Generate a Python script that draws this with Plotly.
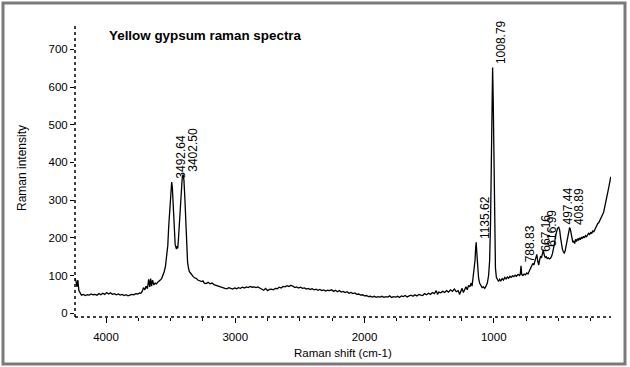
import plotly.graph_objects as go

# Raman shift (cm-1) and intensity
shift = [4240, 4232, 4225, 4218, 4210, 4200, 4190, 4175, 4160, 4145, 4130, 4115, 4100, 4085, 4070,
         4055, 4040, 4025, 4010, 3995, 3980, 3965, 3950, 3935, 3920, 3905, 3890, 3875, 3860, 3845,
         3830, 3815, 3800, 3785, 3770, 3755, 3740, 3730, 3720, 3710, 3700, 3690, 3680, 3670, 3662,
         3655, 3648, 3640, 3630, 3620, 3610, 3600, 3590, 3580, 3570, 3560, 3550, 3540, 3530, 3522,
         3515, 3508, 3502, 3496, 3492, 3487, 3481, 3476, 3470, 3465, 3460, 3455, 3450, 3445, 3440,
         3432, 3425, 3418, 3410, 3403, 3397, 3390, 3383, 3376, 3369, 3362, 3355, 3345, 3335, 3325,
         3315, 3300, 3290, 3275, 3260, 3250, 3240, 3225, 3210, 3195, 3180, 3165, 3150, 3140, 3125,
         3110, 3095, 3080, 3065, 3050, 3035, 3020, 3005, 2990, 2975, 2960, 2945, 2930, 2915, 2900,
         2885, 2870, 2855, 2840, 2825, 2810, 2795, 2780, 2765, 2750, 2735, 2720, 2705, 2690, 2675,
         2660, 2645, 2630, 2615, 2600, 2585, 2570, 2555, 2540, 2525, 2510, 2495, 2480, 2465, 2450,
         2435, 2420, 2405, 2390, 2375, 2360, 2345, 2330, 2315, 2300, 2285, 2270, 2255, 2240, 2225,
         2210, 2195, 2180, 2165, 2150, 2135, 2120, 2105, 2090, 2075, 2060, 2045, 2030, 2015, 2000,
         1985, 1970, 1955, 1940, 1925, 1910, 1895, 1880, 1865, 1850, 1835, 1820, 1805, 1790, 1775,
         1760, 1745, 1730, 1715, 1700, 1685, 1670, 1655, 1640, 1625, 1610, 1595, 1580, 1565, 1550,
         1535, 1520, 1505, 1490, 1475, 1460, 1445, 1435, 1425, 1410, 1395, 1380, 1365, 1350, 1335,
         1320, 1305, 1290, 1275, 1265, 1255, 1245, 1235, 1225, 1215, 1205, 1195, 1185, 1175, 1168,
         1160, 1152, 1145, 1140, 1136, 1131, 1125, 1118, 1110, 1100, 1090, 1080, 1070, 1060, 1050,
         1040, 1032, 1025, 1019, 1013, 1009, 1004, 999, 993, 987, 980, 972, 963, 955, 945,
         935, 925, 915, 905, 895, 885, 875, 865, 855, 845, 835, 825, 812, 800, 795,
         789, 784, 775, 765, 755, 745, 735, 725, 715, 705, 698, 690, 682, 675, 667,
         660, 652, 645, 638, 630, 623, 617, 610, 602, 594, 586, 578, 570, 562, 554,
         546, 538, 530, 522, 514, 506, 497, 490, 483, 476, 469, 462, 455, 448, 441,
         434, 427, 420, 414, 409, 402, 395, 388, 381, 374, 367, 360, 352, 345, 338,
         330, 322, 314, 306, 298, 290, 282, 274, 266, 258, 250, 242, 234, 226, 218,
         210, 202, 195, 188, 180, 172, 165, 158, 150, 143, 136, 129, 122, 115, 108,
         101, 95]
intensity = [92, 85, 70, 88, 60, 52, 48, 50, 47, 49, 48, 51, 49, 50, 48,
             52, 49, 53, 50, 55, 51, 54, 50, 52, 49, 51, 48, 50, 47, 49,
             46, 48, 50, 49, 52, 51, 54, 53, 58, 68, 62, 72, 65, 90, 70,
             92, 72, 88, 75, 80, 78, 82, 84, 88, 92, 100, 110, 125, 150, 180,
             230, 270, 320, 340, 348, 335, 290, 235, 200, 182, 176, 170, 178, 172, 195,
             240, 300, 345, 362, 368, 352, 305, 230, 170, 135, 120, 110, 106, 100, 97,
             94, 92, 88, 86, 84, 86, 80, 79, 82, 78, 80, 76, 74, 72, 72,
             70, 68, 66, 65, 68, 66, 64, 67, 65, 68, 66, 69, 67, 70, 68,
             71, 69, 70, 68, 70, 67, 65, 61, 66, 60, 63, 64, 62, 66, 65,
             69, 67, 71, 70, 73, 71, 74, 72, 68, 70, 67, 69, 66, 67, 64,
             66, 63, 65, 62, 64, 61, 63, 60, 62, 59, 61, 60, 62, 58, 61,
             57, 60, 56, 58, 55, 57, 53, 55, 52, 54, 50, 51, 48, 49, 46,
             47, 44, 45, 43, 45, 42, 44, 43, 45, 42, 44, 43, 46, 42, 44,
             43, 45, 42, 46, 44, 47, 43, 46, 48, 45, 49, 46, 50, 48, 47,
             52, 49, 53, 50, 55, 52, 60, 50, 56, 54, 58, 55, 60, 56, 62,
             58, 64, 57, 60, 50, 58, 66, 55, 62, 70, 62, 74, 70, 80, 72,
             92, 110, 140, 175, 188, 160, 120, 95, 80, 72, 68, 70, 66, 72, 80,
             100, 140, 240, 420, 600, 652, 560, 380, 200, 120, 95, 88, 84, 90, 86,
             92, 88, 95, 91, 96, 93, 98, 95, 99, 97, 101, 98, 103, 100, 104,
             126, 103, 100, 104, 102, 107, 104, 112, 118, 124, 132, 128, 140, 148, 156,
             138, 128, 142, 150, 148, 160, 168, 155, 148, 150, 145, 147, 144, 146, 150,
             158, 170, 185, 205, 218, 226, 228, 220, 200, 182, 170, 163, 160, 165, 178,
             195, 210, 220, 226, 225, 212, 198, 188, 192, 185, 196, 190, 198, 193, 200,
             195, 202, 198, 204, 200, 206, 203, 208, 212, 209, 214, 212, 218, 216, 222,
             228, 235, 238, 240, 245, 250, 258, 262, 268, 278, 290, 302, 315, 326, 338,
             350, 362]

# Labelled peaks
peak_labels = ["3492.64", "3402.50", "1135.62", "1008.79", "788.83", "667.16", "616.99", "497.44", "408.89"]
peak_height = [348, 368, 188, 652, 126, 156, 168, 228, 225]

y_ticks = [0, 100, 200, 300, 400, 500, 600, 700]
x_ticks = [4000, 3000, 2000, 1000]

W, H = 630, 367
ML, MR, MT, MB = 75, 19, 23, 50
PW, PH = W - ML - MR, H - MT - MB
FONT = "Liberation Sans, Arial, sans-serif"

def px(xp):
    return (xp - ML) / PW

def py(yp):
    return (H - MB - yp) / PH

fig = go.Figure()
fig.add_trace(go.Scatter(x=shift, y=intensity, mode="lines",
                         line=dict(color="black", width=1.3), hoverinfo="skip"))

for lab, h in zip(peak_labels, peak_height):
    fig.add_annotation(x=float(lab), y=h, text=lab, showarrow=False, textangle=-90,
                       xanchor="center", yanchor="bottom", xshift=9, yshift=1,
                       font=dict(family=FONT, size=12, color="black"))

# title and axis titles
fig.add_annotation(xref="paper", yref="paper", x=px(107), y=py(35), text="<b>Yellow gypsum raman spectra</b>",
                   showarrow=False, xanchor="left", yanchor="middle",
                   font=dict(family=FONT, size=13.4, color="black"))
fig.add_annotation(xref="paper", yref="paper", x=px(22), y=py(168), text="Raman intensity",
                   showarrow=False, textangle=-90, xanchor="center", yanchor="middle",
                   font=dict(family=FONT, size=12, color="black"))
fig.add_annotation(xref="paper", yref="paper", x=px(343), y=py(353), text="Raman shift (cm-1)",
                   showarrow=False, xanchor="center", yanchor="middle",
                   font=dict(family=FONT, size=11.5, color="black"))

# dotted axes
fig.add_shape(type="line", xref="paper", yref="paper", x0=0, x1=0, y0=0, y1=1,
              line=dict(color="black", width=1.5, dash="dot"))
fig.add_shape(type="line", xref="paper", yref="paper", x0=0, x1=1, y0=0, y1=0,
              line=dict(color="black", width=1.5, dash="dot"))
# outer frame
fig.add_shape(type="rect", xref="paper", yref="paper", x0=px(3), x1=px(625), y0=py(364), y1=py(3),
              line=dict(color="#7a7a7a", width=3))

fig.update_layout(
    width=W, height=H, margin=dict(l=ML, r=MR, t=MT, b=MB),
    paper_bgcolor="white", plot_bgcolor="white", showlegend=False,
    font=dict(family=FONT, size=11.5, color="black"),
)
fig.update_xaxes(range=[4240, 93], tickvals=x_ticks, ticktext=[str(v) for v in x_ticks],
                 ticks="outside", ticklen=5, tickcolor="black", showgrid=False, zeroline=False,
                 showline=False, tickfont=dict(size=11.5), ticklabelstandoff=4,
                 minor=dict(dtick=250, tick0=0, ticks="outside", ticklen=3, tickcolor="black", showgrid=False))
fig.update_yaxes(range=[-10, 770], tickvals=y_ticks, ticktext=[str(v) for v in y_ticks],
                 ticks="outside", ticklen=4, tickcolor="black", showgrid=False, zeroline=False,
                 showline=False, tickfont=dict(size=11.5))

fig.write_html("out.html", config={"displayModeBar": False},
               post_script="document.body.style.margin='0px';document.body.style.padding='0px';")
